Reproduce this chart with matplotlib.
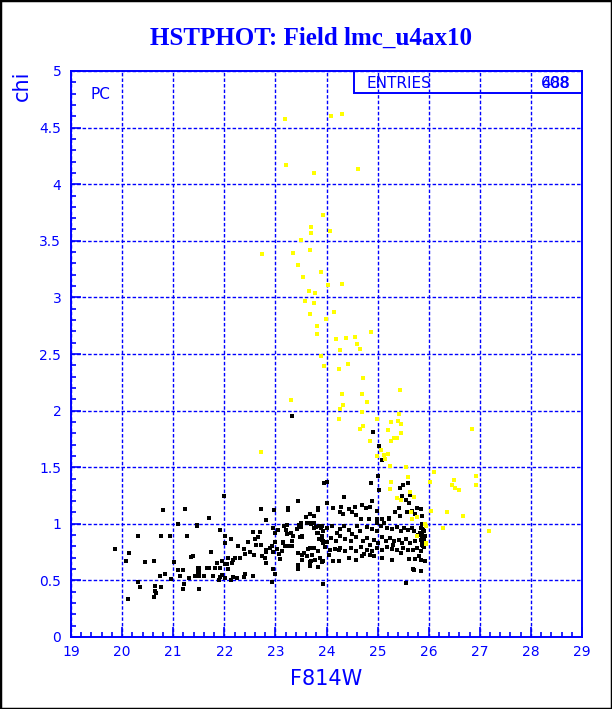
import numpy as np
import matplotlib
matplotlib.use('Agg')
import matplotlib.pyplot as plt
from matplotlib.patches import Rectangle
from matplotlib.ticker import MultipleLocator, FuncFormatter

BLUE = '#0000ff'

title = 'HSTPHOT: Field lmc_u4ax10'
x_label = 'F814W'
y_label = 'chi'
entries = ['488', '608']

# good photometry (black)
black_x = [
    20.80, 21.23, 21.09, 21.46, 20.32, 20.76, 20.94, 21.27, 19.86, 20.13, 20.07, 20.44, 20.62, 21.02,
    21.35, 21.39, 21.49, 21.50, 21.09, 21.20, 20.84, 20.74, 21.13, 21.31, 21.42, 20.96, 20.32, 20.35,
    20.64, 20.76, 20.65, 20.66, 20.62, 21.21, 21.19, 21.50, 20.12,
    21.99, 21.71, 22.71, 22.98, 23.24, 23.24, 23.44, 23.96, 22.81, 21.47, 21.91, 22.01, 22.01, 22.13,
    22.46, 22.57, 22.69, 22.61, 22.65, 22.96, 22.99, 23.06, 23.17, 23.21, 23.23, 23.31, 23.42, 23.47,
    23.49, 23.53, 23.59, 23.68, 23.76, 23.51, 23.62, 23.67, 23.75, 23.79, 23.85, 23.84, 23.92, 23.93,
    23.85, 22.27, 22.38, 22.50, 22.63, 22.72, 22.81, 22.81, 22.90, 22.95, 22.93, 23.00, 23.03, 23.12,
    23.14, 23.19, 23.27, 23.32, 23.32, 23.08, 23.09, 22.80, 22.81, 22.59, 22.73, 22.40, 22.31, 22.21,
    22.17, 21.95, 22.08, 22.02, 22.06, 22.08, 22.16, 21.85, 21.82, 21.92, 21.73, 21.66, 21.70, 21.50,
    21.48, 21.60, 21.51, 21.77, 21.92, 21.90, 21.95, 22.01, 22.13, 22.18, 22.25, 22.40, 22.39, 22.57,
    22.95, 23.00, 22.93, 21.51, 23.44, 23.44, 23.44, 23.52, 23.62, 23.71, 23.68, 23.53, 23.77, 23.87,
    23.91, 23.84, 23.63, 23.68, 23.93,
    23.33, 23.83, 23.83, 23.14, 23.22, 23.35, 23.52, 23.50, 23.69, 23.75, 23.81, 23.89, 23.94, 23.45,
    23.55, 23.75, 23.83, 23.93, 23.69, 23.68,
    25.08, 24.00, 24.87, 25.00, 25.43, 25.50, 25.60, 25.02, 25.64, 25.48, 25.56, 25.61, 24.35, 24.89,
    24.69, 24.00, 24.13, 24.29, 24.44, 24.55, 24.78, 24.86, 24.98, 24.26, 24.32, 24.50, 24.57, 25.08,
    25.22, 25.35, 25.41, 25.43, 25.58, 25.67, 25.74, 25.77, 24.68, 24.84, 24.98, 24.99, 25.12, 25.22,
    25.84, 25.87, 25.84, 25.87,
    23.92, 23.93, 24.01, 24.11, 24.20, 24.27, 24.34, 24.44, 24.50, 24.59, 24.66, 24.79, 24.89, 24.99,
    25.06, 25.19, 25.28, 25.37, 25.45, 25.51, 25.59, 25.67, 25.72, 25.80, 25.90, 25.93,
    23.92, 24.01, 24.08, 24.18, 24.27, 24.37, 24.48, 24.57, 24.72, 24.79, 24.86, 24.93, 25.00, 25.09,
    25.17, 25.25, 25.33, 25.41, 25.48, 25.56, 25.64, 25.74, 25.84, 25.87, 25.90,
    23.98, 24.07, 24.16, 24.27, 24.37, 24.47, 24.57, 24.68, 24.79, 24.89, 24.99, 25.09, 25.19, 25.28,
    25.38, 25.50, 25.59, 25.69, 25.77, 25.84, 25.90,
    24.05, 24.24, 24.44, 24.57, 24.70, 24.86, 25.09, 25.28, 25.45, 25.61, 25.74, 25.81, 25.84, 25.93,
    25.71, 25.85, 25.56, 24.73, 24.93, 24.24, 25.30, 25.87, 25.87, 25.86, 25.89, 25.92, 25.70, 23.93,
    24.13, 24.91, 25.03, 25.88, 25.90, 25.83, 25.91,
]
black_y = [
    1.12, 1.13, 1.00, 0.98, 0.89, 0.89, 0.89, 0.89, 0.78, 0.745, 0.67, 0.665, 0.67, 0.665,
    0.71, 0.715, 0.607, 0.577, 0.59, 0.59, 0.556, 0.54, 0.54, 0.52, 0.54, 0.51, 0.485, 0.44,
    0.45, 0.44, 0.405, 0.39, 0.353, 0.468, 0.427, 0.424, 0.336,
    1.25, 1.05, 1.13, 1.12, 1.14, 1.12, 1.20, 1.36, 1.03, 0.99, 0.945, 0.895, 0.83, 0.87,
    0.84, 0.93, 0.93, 0.87, 0.88, 0.96, 0.915, 0.945, 0.98, 0.945, 0.91, 0.915, 0.957, 0.99,
    0.88, 0.886, 1.06, 1.09, 1.07, 1.01, 1.004, 1.004, 1.004, 0.97, 0.98, 0.916, 0.89, 0.845,
    0.87, 0.80, 0.78, 0.755, 0.81, 0.81, 0.77, 0.755, 0.79, 0.755, 0.80, 0.84, 0.78, 0.76,
    0.83, 0.807, 0.80, 0.80, 0.85, 0.73, 0.69, 0.695, 0.65, 0.72, 0.715, 0.73, 0.70, 0.70,
    0.68, 0.675, 0.70, 0.645, 0.645, 0.60, 0.65, 0.656, 0.61, 0.607, 0.755, 0.61, 0.61, 0.61,
    0.575, 0.54, 0.54, 0.54, 0.53, 0.506, 0.55, 0.52, 0.506, 0.53, 0.52, 0.556, 0.53, 0.54,
    0.60, 0.56, 0.49, 0.427, 0.64, 0.62, 0.60, 0.727, 0.715, 0.724, 0.665, 0.68, 0.68, 0.70,
    0.665, 0.615, 0.777, 0.786, 0.47,
    1.95, 1.14, 1.12, 0.835, 0.99, 0.89, 0.89, 0.97, 1.00, 0.96, 0.92, 0.96, 0.83, 0.74,
    0.74, 0.79, 0.756, 0.67, 0.67, 0.63,
    1.56, 1.367, 1.358, 1.42, 1.32, 1.34, 1.364, 1.30, 1.254, 1.245, 1.207, 1.186, 1.237, 1.20,
    1.17, 1.186, 1.136, 1.148, 1.133, 1.15, 1.142, 1.15, 1.112, 1.107, 1.09, 1.107, 1.08, 1.038,
    1.053, 1.10, 1.142, 1.07, 1.104, 1.112, 1.083, 1.142, 1.044, 1.044, 1.038, 1.01, 1.01, 1.044,
    1.127, 1.068, 0.965, 0.994,
    0.98, 0.935, 0.965, 0.98, 0.92, 0.95, 0.98, 0.944, 0.91, 0.98, 0.935, 0.97, 0.95, 0.94,
    0.98, 0.965, 0.95, 0.97, 0.935, 0.965, 0.944, 0.965, 0.935, 0.905, 0.935, 0.89,
    0.86, 0.84, 0.876, 0.846, 0.89, 0.867, 0.846, 0.885, 0.846, 0.876, 0.81, 0.86, 0.83, 0.885,
    0.846, 0.876, 0.846, 0.86, 0.83, 0.867, 0.83, 0.846, 0.86, 0.817, 0.846,
    0.796, 0.766, 0.778, 0.787, 0.757, 0.787, 0.757, 0.796, 0.772, 0.757, 0.787, 0.766, 0.796, 0.778,
    0.772, 0.787, 0.766, 0.772, 0.787, 0.757, 0.796,
    0.728, 0.67, 0.70, 0.683, 0.713, 0.728, 0.70, 0.683, 0.743, 0.69, 0.69, 0.713, 0.683, 0.67,
    0.595, 0.58, 0.476, 0.737, 0.713, 0.77, 0.816, 0.905, 0.876, 0.846, 0.808, 0.67, 0.60, 0.47,
    0.67, 1.81, 1.69, 0.95, 0.87, 0.92, 1.00,
]

# flagged photometry (yellow)
yellow_x = [
    23.18, 24.08, 24.31, 23.21, 23.76, 24.62, 23.93, 23.69, 23.69, 24.07, 23.51, 22.74, 23.34, 23.67,
    23.45, 23.89, 23.54, 24.03, 24.31, 23.65, 23.77, 23.57, 23.76, 24.15, 23.68, 23.99, 23.81, 23.81,
    24.19, 24.39, 24.56, 24.87,
    24.59, 24.27, 24.66, 23.90, 23.96, 24.25, 24.43, 24.72, 24.31, 24.70, 24.79, 25.44, 24.33, 24.26,
    24.70, 25.42, 24.25, 24.98, 25.27, 25.40, 25.46, 24.72, 24.66, 25.21, 25.46, 24.86, 25.26, 25.33,
    25.38, 25.06, 25.21, 25.13, 24.98, 25.15, 25.25, 25.56, 26.85,
    23.31, 22.72, 26.11, 26.03, 26.49, 26.46, 26.52, 26.60, 26.93, 26.93, 26.05, 26.35, 26.67, 26.28,
    27.18,
    25.26, 25.25, 25.37, 25.46, 25.64, 25.72, 25.65, 25.77, 25.68, 25.92, 25.95, 25.95, 25.59, 25.78,
    25.95,
]
yellow_y = [
    4.58, 4.60, 4.62, 4.17, 4.10, 4.13, 3.73, 3.62, 3.57, 3.59, 3.51, 3.38, 3.39, 3.42,
    3.29, 3.22, 3.18, 3.11, 3.12, 3.06, 3.04, 2.97, 2.95, 2.87, 2.85, 2.81, 2.75, 2.68,
    2.63, 2.64, 2.65, 2.69,
    2.59, 2.535, 2.54, 2.48, 2.395, 2.37, 2.41, 2.29, 2.15, 2.15, 2.08, 2.18, 2.05, 2.01,
    1.99, 1.97, 1.93, 1.93, 1.90, 1.91, 1.88, 1.86, 1.84, 1.83, 1.80, 1.73, 1.73, 1.755,
    1.76, 1.65, 1.62, 1.61, 1.60, 1.57, 1.51, 1.50, 1.84,
    2.09, 1.63, 1.46, 1.37, 1.385, 1.34, 1.32, 1.30, 1.42, 1.34, 1.11, 1.10, 1.07, 0.96,
    0.94,
    1.37, 1.305, 1.23, 1.21, 1.28, 1.24, 1.10, 1.06, 1.044, 0.994, 0.98, 0.83, 1.41, 0.89,
    0.82,
]


def main():
    fig = plt.figure(figsize=(6.12, 7.09), dpi=100)
    fig.patch.set_facecolor('white')
    fig.add_artist(Rectangle((0, 0), 1, 1, transform=fig.transFigure,
                             fill=False, edgecolor='black', linewidth=2.5))

    ax = fig.add_axes([71 / 612, 72 / 709, 511 / 612, 566 / 709])
    ax.plot(black_x, black_y, 's', color='black', ms=2.4, mew=0, zorder=3)
    ax.plot(yellow_x, yellow_y, 's', color='#ffff00', ms=2.4, mew=0, zorder=4)

    ax.set_xlim(19, 29)
    ax.set_ylim(0, 5)
    ax.xaxis.set_major_locator(MultipleLocator(1))
    ax.xaxis.set_minor_locator(MultipleLocator(0.2))
    ax.yaxis.set_major_locator(MultipleLocator(0.5))
    ax.yaxis.set_minor_locator(MultipleLocator(0.1))
    fmt = FuncFormatter(lambda v, p: '%g' % v)
    ax.xaxis.set_major_formatter(fmt)
    ax.yaxis.set_major_formatter(fmt)

    ax.grid(True, which='major', color=BLUE, linestyle=(0, (2.5, 1.5)), linewidth=1.0)
    ax.set_axisbelow(True)
    for s in ax.spines.values():
        s.set_color(BLUE)
        s.set_linewidth(1.4)
    ax.tick_params(which='both', direction='in', colors=BLUE, width=1.2,
                   top=False, right=False, labelsize=10)
    ax.tick_params(which='major', length=7)
    ax.tick_params(which='minor', length=3.6)
    ax.tick_params(axis='x', pad=6)
    ax.tick_params(axis='y', pad=7)
    for lab in ax.get_xticklabels() + ax.get_yticklabels():
        lab.set_color(BLUE)

    fig.text(0.5 + 5 / 612, 1 - 38 / 709, title, ha='center', va='center', color=BLUE,
             fontsize=18, fontweight='bold', family='Liberation Serif')
    ax.set_xlabel(x_label, color=BLUE, fontsize=15, labelpad=7)
    fig.text(22 / 612, 1 - 86 / 709, y_label, rotation=90, ha='center', va='center',
             color=BLUE, fontsize=15)

    ax.text(0.038, 0.972, 'PC', transform=ax.transAxes, color=BLUE, fontsize=11,
            ha='left', va='top')

    # stats box
    ax.add_patch(Rectangle((354 / 612, 1 - 93 / 709), 228 / 612, 22 / 709,
                           transform=fig.transFigure, fill=False, edgecolor=BLUE,
                           linewidth=1.4, zorder=6, clip_on=False))
    fig.text(367 / 612, 1 - 83 / 709, 'ENTRIES', color=BLUE, fontsize=11,
             ha='left', va='center')
    for e in entries:
        fig.text(570 / 612, 1 - 83 / 709, e, color=BLUE, fontsize=11,
                 ha='right', va='center')

    fig.savefig('out.png', dpi=100, facecolor='white')


if __name__ == '__main__':
    main()
